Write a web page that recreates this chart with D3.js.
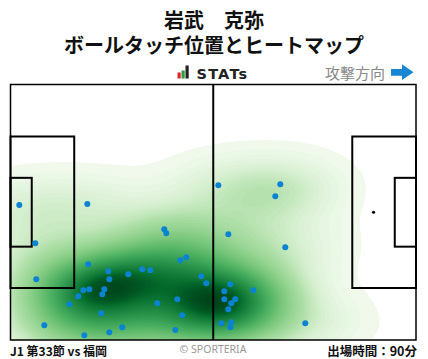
<!DOCTYPE html>
<html><head><meta charset="utf-8">
<script src="https://cdn.jsdelivr.net/npm/d3@7"></script>
<style>body{margin:0;background:#fff;} svg{display:block;}</style>
</head><body>
<svg id="c" width="428" height="359"></svg>
<script>
// ---- data ----
const titleLines = ["岩武　克弥", "ボールタッチ位置とヒートマップ"];
const brandLabel = "STATs";
const directionLabel = "攻撃方向";
const matchLabel = "J1 第33節 vs 福岡";
const creditLabel = "© SPORTERIA";
const minutesLabel = "出場時間：90分";
const pitchSize = [105, 68]; // metres
// touch positions (metres, x along attacking direction, y from top touchline)
const touchX = [2.28,19.89,53.81,69.86,68.57,39.82,40.34,6.42,43.97,45.52,20.14,25.32,25.58,30.50,34.13,36.20,49.40,50.70,6.68,18.85,20.40,24.29,23.77,17.56,15.23,43.19,38.01,44.48,23.51,8.75,28.95,42.67,25.58,19.11,56.40,71.15,56.91,55.36,62.87,55.36,58.21,57.17,56.40,54.58,57.17,56.91,76.33];
const touchY = [32.07,31.81,26.83,26.56,29.76,38.54,39.61,42.27,46.79,45.99,47.86,49.72,51.85,50.52,49.19,49.45,51.05,52.91,51.85,54.78,54.51,54.51,55.84,56.38,58.50,57.17,58.24,61.43,60.90,64.09,64.63,65.34,65.96,66.76,39.87,43.33,53.18,55.04,54.78,57.17,57.17,58.24,59.83,63.56,63.30,64.63,63.56];

// ---- layout ----
const svg = d3.select("#c");
const X0 = 10.5, X1 = 416, Y0 = 84.5, Y1 = 340;
const x = d3.scaleLinear().domain([0, pitchSize[0]]).range([X0, X1]);
const y = d3.scaleLinear().domain([0, pitchSize[1]]).range([Y0, Y1]);

// ---- header ----
const tf = "'Noto Sans CJK JP','Noto Sans',sans-serif";
const title = svg.append("text").attr("text-anchor", "middle")
  .attr("font-family", tf).attr("font-weight", 700).attr("font-size", 20).attr("fill", "#111");
title.selectAll("tspan").data(titleLines).join("tspan")
  .attr("x", 214).attr("y", (d, i) => 28 + i * 25).text(d => d);

// brand logo
const logoBars = [{c:"#e0262b", h:6}, {c:"#2e9e3e", h:8}, {c:"#222", h:13}];
const lb = svg.append("g");
logoBars.forEach((b, i) => {
  lb.append("rect").attr("x", 177.5 + i * 4).attr("y", 78.5 - b.h).attr("width", 3.2)
    .attr("height", b.h).attr("fill", b.c);
});
svg.append("text").attr("x", 196.5).attr("y", 74).attr("dominant-baseline", "central")
  .attr("font-family", "'DejaVu Sans',sans-serif").attr("font-weight", 700).attr("font-size", 14.5)
  .attr("letter-spacing", 1.2).attr("fill", "#222").text(brandLabel);

svg.append("text").attr("x", 385).attr("y", 72).attr("text-anchor", "end").attr("dominant-baseline", "central")
  .attr("font-family", tf).attr("font-size", 15).attr("fill", "#888").text(directionLabel);
svg.append("path").attr("d", "M391,69 L402,69 L402,64.3 L413.5,72.3 L402,80 L402,75.7 L391,75.7 Z")
  .attr("fill", "#1787d2");

// ---- heatmap (KDE, iso-proportion levels) ----
const pts = touchX.map((d, i) => [x(d), y(touchY[i])]);
const n = pts.length;
const mx = d3.mean(pts, p => p[0]), my = d3.mean(pts, p => p[1]);
let sxx = 0, syy = 0, sxy = 0;
pts.forEach(p => { const dx = p[0] - mx, dy = p[1] - my; sxx += dx*dx; syy += dy*dy; sxy += dx*dy; });
sxx /= (n - 1); syy /= (n - 1); sxy /= (n - 1);
const bwAdjust = 1.05;
const f2 = Math.pow(Math.pow(n, -1/6) * bwAdjust, 2);
const cxx = sxx * f2, cyy = syy * f2, cxy = sxy * f2;
const det = cxx * cyy - cxy * cxy;
const ixx = cyy / det, iyy = cxx / det, ixy = -cxy / det;
const cell = 2, pad = 160;
const gx0 = X0 - pad, gy0 = Y0 - pad;
const nx = Math.ceil((X1 - X0 + 2 * pad) / cell), ny = Math.ceil((Y1 - Y0 + 2 * pad) / cell);
const values = new Float64Array(nx * ny);
for (let j = 0; j < ny; j++) {
  const py = gy0 + j * cell;
  for (let i = 0; i < nx; i++) {
    const px = gx0 + i * cell;
    let s = 0;
    for (let k = 0; k < n; k++) {
      const dx = px - pts[k][0], dy = py - pts[k][1];
      s += Math.exp(-0.5 * (ixx*dx*dx + 2*ixy*dx*dy + iyy*dy*dy));
    }
    values[i + j * nx] = s;
  }
}
const sorted = Array.from(values).sort((a, b) => a - b);
const total = d3.sum(sorted);
const cum = new Float64Array(sorted.length);
let acc = 0;
for (let i = 0; i < sorted.length; i++) { acc += sorted[i]; cum[i] = acc / total; }
const thresh = 0.012, L = 60;
const props = d3.range(L).map(k => thresh + (0.995 - thresh) * k / (L - 1));
const levels = props.map(p => sorted[Math.min(sorted.length - 1, d3.bisectLeft(cum, p))]);
const contours = d3.contours().size([nx, ny]).thresholds(levels)(values);

const defs = svg.append("defs");
defs.append("clipPath").attr("id", "pc").append("rect")
  .attr("x", X0).attr("y", Y0).attr("width", X1 - X0).attr("height", Y1 - Y0);

// penalty spots (under heatmap)
svg.append("g").selectAll("circle").data([11, pitchSize[0] - 11]).join("circle")
  .attr("cx", d => x(d)).attr("cy", y(pitchSize[1] / 2)).attr("r", 1.6).attr("fill", "#000");

const hm = svg.append("g").attr("clip-path", "url(#pc)")
  .append("g").attr("transform", `translate(${gx0},${gy0}) scale(${cell})`);
hm.selectAll("path").data(contours).join("path")
  .attr("d", d3.geoPath())
  .attr("fill", (d, i) => d3.interpolateGreens(0.05 + 0.95 * Math.pow(i / (L - 1), 0.85)));

// ---- pitch lines ----
const lines = svg.append("g").attr("fill", "none").attr("stroke", "#000");
const [PL, PW] = pitchSize;
const boxes = [
  [0, PW/2 - 20.16, 16.5, 40.32], [PL - 16.5, PW/2 - 20.16, 16.5, 40.32],
  [0, PW/2 - 9.16, 5.5, 18.32], [PL - 5.5, PW/2 - 9.16, 5.5, 18.32]
];
lines.selectAll("rect.box").data(boxes).join("rect").attr("class", "box")
  .attr("x", d => x(d[0])).attr("y", d => y(d[1]))
  .attr("width", d => x(d[0] + d[2]) - x(d[0])).attr("height", d => y(d[1] + d[3]) - y(d[1]))
  .attr("stroke-width", 2);
lines.append("line").attr("x1", x(PL/2)).attr("x2", x(PL/2)).attr("y1", y(0)).attr("y2", y(PW))
  .attr("stroke-width", 2);
lines.append("rect").attr("x", x(0)).attr("y", y(0)).attr("width", x(PL) - x(0)).attr("height", y(PW) - y(0))
  .attr("stroke-width", 1.5);

// ---- touches ----
svg.append("g").selectAll("circle").data(pts).join("circle")
  .attr("cx", d => d[0]).attr("cy", d => d[1]).attr("r", 3).attr("fill", "#0a84d2");

// ---- footer ----
svg.append("text").attr("x", 10).attr("y", 350).attr("dominant-baseline", "central")
  .attr("font-family", tf).attr("font-weight", 700).attr("font-size", 12).attr("fill", "#111").text(matchLabel);
svg.append("text").attr("x", 213).attr("y", 348.5).attr("text-anchor", "middle").attr("dominant-baseline", "central")
  .attr("font-family", "'Noto Sans',sans-serif").attr("font-size", 10.5).attr("fill", "#999").text(creditLabel);
svg.append("text").attr("x", 417).attr("y", 350).attr("text-anchor", "end").attr("dominant-baseline", "central")
  .attr("font-family", tf).attr("font-weight", 700).attr("font-size", 12.5).attr("fill", "#111").text(minutesLabel);
</script>
</body></html>
